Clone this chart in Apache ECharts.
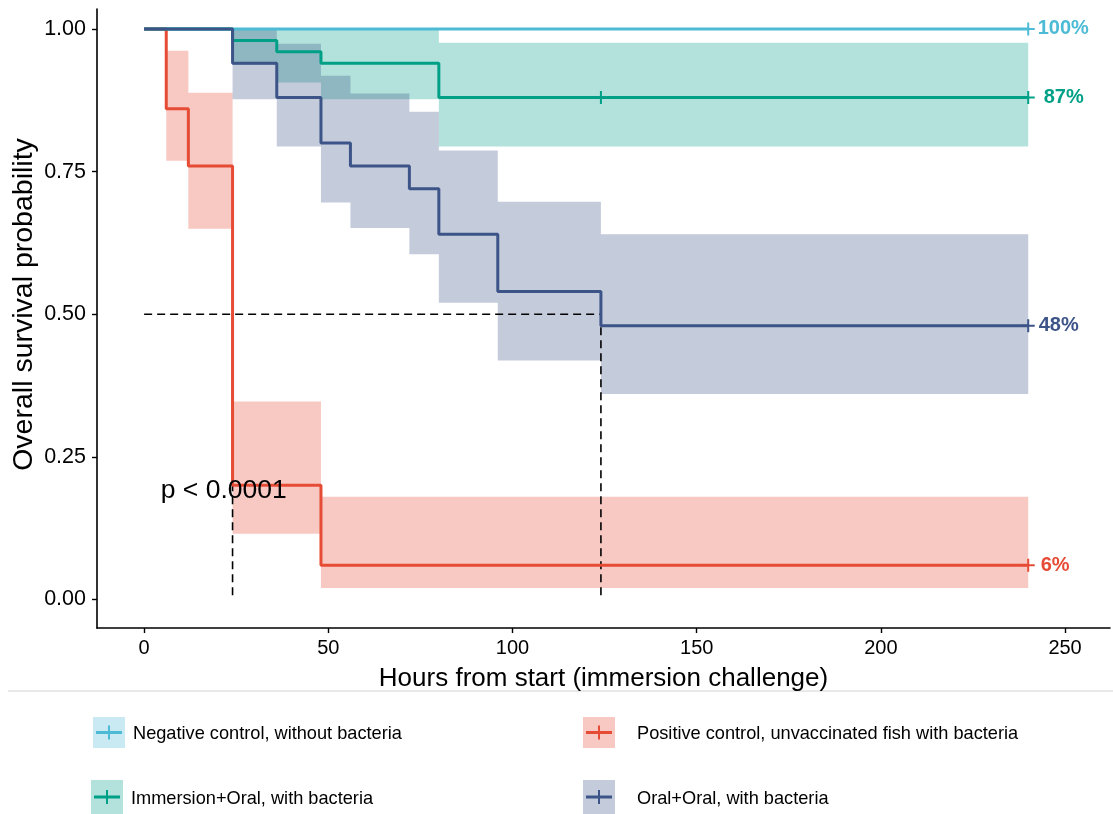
<!DOCTYPE html>
<html>
<head>
<meta charset="utf-8">
<script src="https://cdn.jsdelivr.net/npm/echarts@6/dist/echarts.min.js"></script>
<style>
  html, body { margin: 0; padding: 0; background: #ffffff; }
  #chart { width: 1113px; height: 814px; }
</style>
</head>
<body>
<div id="chart"></div>
<script>
// ---------------- data ----------------
const groupNames = [
  'Negative control, without bacteria',
  'Positive control, unvaccinated fish with bacteria',
  'Immersion+Oral, with bacteria',
  'Oral+Oral, with bacteria'
];
const groupColors = ['#4DBBD5', '#E64B35', '#00A087', '#3C5488'];
const bandColors = ['rgba(77,187,213,0.3)', 'rgba(230,75,53,0.3)', 'rgba(0,160,135,0.3)', 'rgba(60,84,136,0.3)'];

// Negative control
const negTimes = [0, 240];
const negSurv = [1, 1];
const negLower = [1, 1];
const negUpper = [1, 1];
const negCensor = [240];

// Positive control
const posTimes = [0, 6, 12, 24, 48, 240];
const posSurv = [1, 0.86, 0.76, 0.20, 0.06, 0.06];
const posLower = [1, 0.769, 0.650, 0.115, 0.020, 0.020];
const posUpper = [1, 0.962, 0.888, 0.347, 0.180, 0.180];
const posCensor = [240];

// Immersion+Oral
const immTimes = [0, 24, 36, 48, 80, 240];
const immSurv = [1, 0.98, 0.96, 0.94, 0.88, 0.88];
const immLower = [1, 0.937, 0.906, 0.877, 0.794, 0.794];
const immUpper = [1, 1, 1, 1, 0.976, 0.976];
const immCensor = [124, 240];

// Oral+Oral
const oralTimes = [0, 24, 36, 48, 56, 72, 80, 96, 124, 240];
const oralSurv = [1, 0.94, 0.88, 0.80, 0.76, 0.72, 0.64, 0.54, 0.48, 0.48];
const oralLower = [1, 0.877, 0.794, 0.696, 0.651, 0.605, 0.520, 0.419, 0.360, 0.360];
const oralUpper = [1, 1, 0.974, 0.918, 0.887, 0.855, 0.787, 0.697, 0.640, 0.640];
const oralCensor = [240];

const endLabels = ['100%', '6%', '87%', '48%'];

// median reference lines
const medianLevel = 0.5;
const medianTimes = [24, 124];

// p-value annotation (data coordinates)
const pText = 'p < 0.0001';
const pTextAt = [4.5, 0.19];

// axis ticks
const xTicks = [0, 50, 100, 150, 200, 250];
const yTicks = [0, 0.25, 0.5, 0.75, 1];
const yTickLabels = ['0.00', '0.25', '0.50', '0.75', '1.00'];

const xTitle = 'Hours from start (immersion challenge)';
const yTitle = 'Overall survival probability';

// ---------------- build ----------------
const groups = [
  { t: negTimes, s: negSurv, lo: negLower, hi: negUpper, c: negCensor },
  { t: posTimes, s: posSurv, lo: posLower, hi: posUpper, c: posCensor },
  { t: immTimes, s: immSurv, lo: immLower, hi: immUpper, c: immCensor },
  { t: oralTimes, s: oralSurv, lo: oralLower, hi: oralUpper, c: oralCensor }
];
const labelDistances = [3, 6, 9, 4];

function survAt(g, t) {
  let v = g.s[0];
  for (let i = 0; i < g.t.length; i++) { if (g.t[i] <= t) v = g.s[i]; }
  return v;
}

const FONT = "'Liberation Sans', Arial, sans-serif";
const series = [];

// bands
groups.forEach(function (g, gi) {
  series.push({
    type: 'custom',
    coordinateSystem: 'cartesian2d',
    silent: true,
    z: 1,
    clip: true,
    data: [[g.t[0], g.lo[0]]],
    renderItem: function (params, api) {
      const pts = [];
      for (let i = 0; i < g.t.length - 1; i++) {
        pts.push(api.coord([g.t[i], g.hi[i]]));
        pts.push(api.coord([g.t[i + 1], g.hi[i]]));
      }
      for (let i = g.t.length - 2; i >= 0; i--) {
        pts.push(api.coord([g.t[i + 1], g.lo[i]]));
        pts.push(api.coord([g.t[i], g.lo[i]]));
      }
      return { type: 'polygon', shape: { points: pts }, style: { fill: bandColors[gi], stroke: null } };
    }
  });
});

// median dashed lines
const dashStyle = { color: '#000000', width: 1.6, type: [8, 5] };
series.push({
  type: 'line', z: 2, silent: true, showSymbol: false, symbol: 'none',
  data: [[0, medianLevel], [medianTimes[medianTimes.length - 1], medianLevel]],
  lineStyle: dashStyle
});
medianTimes.forEach(function (mt) {
  series.push({
    type: 'line', z: 2, silent: true, showSymbol: false, symbol: 'none',
    data: [[mt, medianLevel], [mt, 0]],
    lineStyle: dashStyle
  });
});

// step lines
groups.forEach(function (g, gi) {
  series.push({
    type: 'line', name: groupNames[gi], step: 'end', z: 3 + gi * 0.01, silent: true,
    showSymbol: false, symbol: 'none',
    data: g.t.map(function (t, i) { return [t, g.s[i]]; }),
    lineStyle: { color: groupColors[gi], width: 3 }
  });
});

// censor marks + end labels
const plusPath = 'path://M0,5.5H13V7.5H0Z M5.5,0H7.5V13H5.5Z';
groups.forEach(function (g, gi) {
  const last = g.t[g.t.length - 1];
  series.push({
    type: 'scatter', z: 4, silent: true,
    symbol: plusPath, symbolSize: [13, 13],
    itemStyle: { color: groupColors[gi], opacity: 1 },
    data: g.c.map(function (t) {
      return {
        value: [t, survAt(g, t)],
        label: {
          show: t === last,
          formatter: endLabels[gi],
          position: 'right',
          distance: labelDistances[gi],
          color: groupColors[gi],
          opacity: 1,
          fontFamily: FONT,
          fontWeight: 'bold',
          fontSize: 20
        }
      };
    })
  });
});

// p-value text
series.push({
  type: 'scatter', z: 6, silent: true, symbolSize: 0,
  itemStyle: { opacity: 1 },
  data: [pTextAt],
  label: {
    show: true, formatter: pText, position: 'right', distance: 0, opacity: 1,
    color: '#000000', fontFamily: FONT, fontSize: 26.5, align: 'left', verticalAlign: 'middle'
  }
});

// legend graphics
const legendKeyPos = [[93, 717], [583, 717], [91, 780], [583, 780]];
const legendTextPos = [[133, 734], [637, 734], [131, 799], [637, 799]];
const graphics = [{
  type: 'line', shape: { x1: 8, y1: 691, x2: 1113, y2: 691 },
  style: { stroke: '#d4d4d4', lineWidth: 1.2 }, silent: true
}];
groupNames.forEach(function (name, i) {
  const kx = legendKeyPos[i][0], ky = legendKeyPos[i][1];
  const kw = 32, kh = (i < 2 ? 31 : 34);
  graphics.push({ type: 'rect', shape: { x: kx, y: ky, width: kw, height: kh }, style: { fill: bandColors[i] }, silent: true });
  graphics.push({ type: 'line', shape: { x1: kx + 3, y1: ky + kh / 2, x2: kx + kw - 3, y2: ky + kh / 2 }, style: { stroke: groupColors[i], lineWidth: 3 }, silent: true });
  graphics.push({ type: 'line', shape: { x1: kx + kw / 2, y1: ky + kh / 2 - 7, x2: kx + kw / 2, y2: ky + kh / 2 + 7 }, style: { stroke: groupColors[i], lineWidth: 2 }, silent: true });
  graphics.push({
    type: 'text', x: legendTextPos[i][0], y: legendTextPos[i][1], silent: true,
    style: { text: name, fill: '#000000', font: '18.2px ' + FONT, textVerticalAlign: 'middle', verticalAlign: 'middle' }
  });
});

const option = {
  backgroundColor: '#ffffff',
  animation: false,
  grid: { left: 97, right: 3, top: 9, bottom: 186, containLabel: false, outerBoundsMode: 'none' },
  xAxis: {
    type: 'value', min: -12.8, max: 262.2,
    name: xTitle, nameLocation: 'middle', nameGap: 38, nameMoveOverlap: false,
    nameTextStyle: { color: '#000000', fontSize: 26, fontFamily: FONT },
    axisLine: { show: true, onZero: false, lineStyle: { color: '#000000', width: 1.6 } },
    axisTick: { show: true, length: 5, lineStyle: { color: '#000000', width: 1.4 }, customValues: xTicks },
    axisLabel: { color: '#000000', fontSize: 20, fontFamily: FONT, margin: 10, customValues: xTicks },
    splitLine: { show: false }
  },
  yAxis: {
    type: 'value', min: -0.05, max: 1.035,
    name: yTitle, nameLocation: 'middle', nameGap: 58, nameRotate: 90, nameMoveOverlap: false,
    nameTextStyle: { color: '#000000', fontSize: 28.5, fontFamily: FONT, padding: [0, 0, 0, 28] },
    axisLine: { show: true, onZero: false, lineStyle: { color: '#000000', width: 1.6 } },
    axisTick: { show: true, length: 5, lineStyle: { color: '#000000', width: 1.4 }, customValues: yTicks },
    axisLabel: {
      color: '#000000', fontSize: 21.5, fontFamily: FONT, margin: 11, customValues: yTicks,
      formatter: function (v) {
        const idx = yTicks.findIndex(function (y) { return Math.abs(y - v) < 1e-9; });
        return idx >= 0 ? yTickLabels[idx] : '';
      }
    },
    splitLine: { show: false }
  },
  graphic: graphics,
  series: series
};

const chart = echarts.init(document.getElementById('chart'), null, { renderer: 'canvas' });
chart.setOption(option);
</script>
</body>
</html>
